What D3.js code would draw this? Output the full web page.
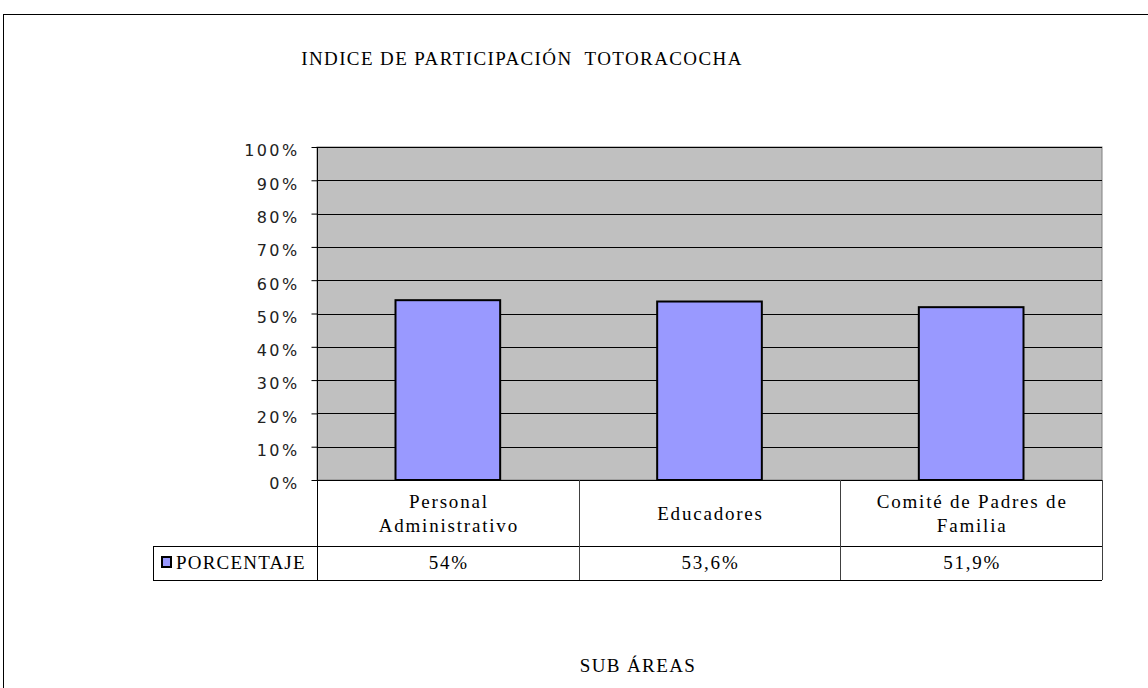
<!DOCTYPE html>
<html>
<head>
<meta charset="utf-8">
<script src="https://cdn.jsdelivr.net/npm/d3@7"></script>
<style>
  body { margin: 0; background: #fff; }
</style>
</head>
<body>
<svg id="chart" width="1148" height="688"></svg>
<script>
// data
var categories = ["Personal Administrativo", "Educadores", "Comité de Padres de Familia"];
var catLines = [["Personal", "Administrativo"], ["Educadores"], ["Comité de Padres de", "Familia"]];
var values = [0.54, 0.536, 0.519];
var valueLabels = ["54%", "53,6%", "51,9%"];
var seriesName = "PORCENTAJE";
var yTicks = [0, 0.1, 0.2, 0.3, 0.4, 0.5, 0.6, 0.7, 0.8, 0.9, 1];

var serif = "'Liberation Serif', 'Times New Roman', serif";
var sans = "'DejaVu Sans', Verdana, sans-serif";
var fs = 19, ls = "1.8px";

var svg = d3.select("#chart");
var plotL = 317, plotR = 1102, plotT = 147, plotB = 480;
var row1 = 546, row2 = 580, legendLeft = 153;

// outer frame
svg.append("rect")
    .attr("x", 3.5).attr("y", 14.5)
    .attr("width", 1160).attr("height", 700)
    .attr("fill", "none").attr("stroke", "#000");

var x = d3.scaleBand().domain(categories).range([plotL, plotR]);
var y = d3.scaleLinear().domain([0, 1]).range([plotB, plotT]);

// plot area
svg.append("rect")
    .attr("x", plotL).attr("y", plotT)
    .attr("width", plotR - plotL).attr("height", plotB - plotT)
    .attr("fill", "#c0c0c0").attr("stroke", "#808080");

// gridlines
svg.append("g").selectAll("line")
    .data(yTicks.slice(1))
    .join("line")
    .attr("x1", plotL).attr("x2", plotR)
    .attr("y1", d => Math.round(y(d)) + 0.5).attr("y2", d => Math.round(y(d)) + 0.5)
    .attr("stroke", "#000");

// bars
var bw = x.bandwidth() * 0.4;
svg.append("g").selectAll("rect")
    .data(values)
    .join("rect")
    .attr("x", (d, i) => x(categories[i]) + (x.bandwidth() - bw) / 2)
    .attr("y", d => y(d))
    .attr("width", bw)
    .attr("height", d => plotB - y(d))
    .attr("fill", "#9999ff")
    .attr("stroke", "#000")
    .attr("stroke-width", 2);

// y axis
var yAxis = d3.axisLeft(y)
    .tickValues(yTicks)
    .tickFormat(d3.format(".0%"))
    .tickSize(6)
    .tickPadding(12);
var ga = svg.append("g")
    .attr("transform", "translate(" + (plotL + 0.5) + ",0)")
    .call(yAxis);
ga.select(".domain").remove();
ga.attr("font-family", sans).attr("font-size", 16);
ga.selectAll(".tick line").attr("stroke", "#000");
ga.selectAll(".tick text")
    .attr("dy", "0.55em")
    .style("letter-spacing", "2.4px")
    .attr("fill", "#222");

// data table
var tbl = svg.append("g").attr("stroke", "#000").attr("fill", "none");
tbl.append("line").attr("x1", plotL + 0.5).attr("x2", plotL + 0.5).attr("y1", plotT).attr("y2", row2);
tbl.append("line").attr("x1", plotL).attr("x2", plotR).attr("y1", plotB + 0.5).attr("y2", plotB + 0.5);
tbl.append("line").attr("x1", legendLeft).attr("x2", plotR).attr("y1", row1 + 0.5).attr("y2", row1 + 0.5);
tbl.append("line").attr("x1", legendLeft).attr("x2", plotR).attr("y1", row2 + 0.5).attr("y2", row2 + 0.5);
tbl.append("line").attr("x1", legendLeft + 0.5).attr("x2", legendLeft + 0.5).attr("y1", row1).attr("y2", row2);
tbl.selectAll(".col")
    .data(categories)
    .join("line")
    .attr("x1", d => Math.round(x(d) + x.bandwidth()) + 0.5)
    .attr("x2", d => Math.round(x(d) + x.bandwidth()) + 0.5)
    .attr("y1", plotB).attr("y2", row2)
    .attr("stroke", "#404040");

// category labels
svg.append("g").selectAll("text")
    .data(catLines)
    .join("text")
    .attr("text-anchor", "middle")
    .attr("font-family", serif)
    .attr("font-size", fs)
    .style("letter-spacing", ls)
    .each(function (lines, i) {
        var cx = x(categories[i]) + x.bandwidth() / 2 + 1;
        var y0 = 520 - (lines.length - 1) * 12;
        d3.select(this).selectAll("tspan")
            .data(lines)
            .join("tspan")
            .attr("x", cx)
            .attr("y", (l, j) => y0 + j * 24)
            .text(l => l);
    });

// values row
svg.append("g").selectAll("text")
    .data(valueLabels)
    .join("text")
    .attr("x", (d, i) => x(categories[i]) + x.bandwidth() / 2 + 1)
    .attr("y", 569)
    .attr("text-anchor", "middle")
    .attr("font-family", serif)
    .attr("font-size", fs)
    .style("letter-spacing", ls)
    .text(d => d);

// legend key
svg.append("rect")
    .attr("x", 162).attr("y", 557)
    .attr("width", 9).attr("height", 10)
    .attr("fill", "#9999ff").attr("stroke", "#000").attr("stroke-width", 2);
svg.append("text")
    .attr("x", 176).attr("y", 569)
    .attr("font-family", serif)
    .attr("font-size", fs)
    .style("letter-spacing", "1.2px")
    .text(seriesName);

// titles
svg.append("text")
    .attr("x", 522).attr("y", 65)
    .attr("text-anchor", "middle")
    .attr("font-family", serif)
    .attr("font-size", fs)
    .style("letter-spacing", "1.4px")
    .style("white-space", "pre")
    .text("INDICE DE PARTICIPACIÓN  TOTORACOCHA");
svg.append("text")
    .attr("x", 638).attr("y", 672)
    .attr("text-anchor", "middle")
    .attr("font-family", serif)
    .attr("font-size", fs)
    .style("letter-spacing", "1.4px")
    .text("SUB ÁREAS");
</script>
</body>
</html>
